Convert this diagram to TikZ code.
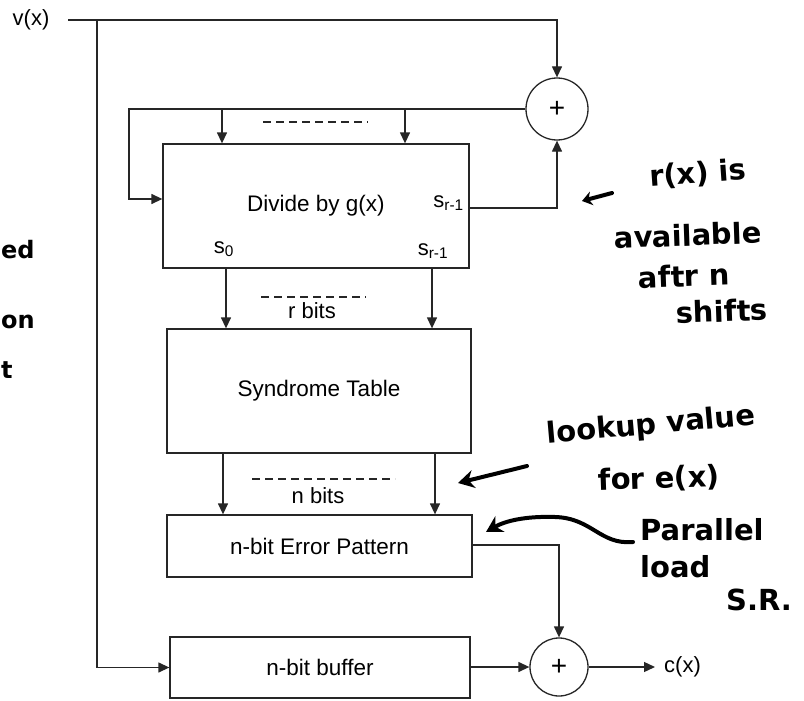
\documentclass[tikz,border=0pt]{standalone}
\usepackage{fontspec}
\setmainfont{Liberation Sans}
\newfontfamily\handfont{DejaVu Sans}
\usetikzlibrary{arrows.meta,calc}
\tikzset{
  wire/.style={line width=1.3pt, draw=black!85},
  arr/.style={wire, -{Triangle[length=11pt,width=10pt]}},
  blk/.style={wire, rectangle, inner sep=0pt, font=\fontsize{22.5}{25}\selectfont},
  adder/.style={wire, circle, minimum size=62pt, inner sep=0pt, font=\fontsize{28}{30}\selectfont},
  lbl/.style={inner sep=0pt, font=\fontsize{22}{24}\selectfont},
  sublbl/.style={inner sep=0pt, font=\fontsize{22}{24}\selectfont},
  dash line/.style={line width=1.3pt, draw=black!85, dash pattern=on 8pt off 5pt},
  hand/.style={inner sep=0pt, font=\handfont\bfseries\fontsize{29}{31}\selectfont, align=left},
  handarr/.style={line width=4pt, line cap=round, -{Stealth[length=16pt,width=18pt]}}
}
\begin{document}
\begin{tikzpicture}[x=1pt,y=-1pt]
\useasboundingbox (0,0) rectangle (804,701);
\fill[white] (0,0) rectangle (804,701);

% blocks
\node[blk, minimum width=306pt, minimum height=124pt] (div) at (316,206) {Divide by g(x)};
\node[blk, minimum width=304pt, minimum height=124pt] (syn) at (319,391) {Syndrome Table};
\node[blk, minimum width=305pt, minimum height=62pt] (err) at (319.5,546) {n-bit Error Pattern};
\node[blk, minimum width=300pt, minimum height=61pt] (buf) at (320,667.5) {n-bit buffer};
\node[adder] (add1) at (557,109) {+};
\node[adder, minimum size=58pt] (add2) at (559,667) {+};

% input / output
\node[lbl] (vx) at (31,20) {v(x)};
\coordinate (vstart) at (68,20);
\coordinate (vbr) at (97,20);
\coordinate (fbl) at (129,109);
\coordinate (tap1) at (222,109);
\coordinate (tap2) at (405,109);
\coordinate (cout) at (655,667);
\node[lbl, anchor=west] (cx) at (664,667) {c(x)};

% connectors
\draw[arr] (vstart) -| (add1.north);
\draw[arr] (vbr) |- (buf.west);
\draw[arr] (add1.west) -| (fbl) |- ([yshift=7pt]div.west);
\draw[arr] (tap1) -- (tap1 |- div.north);
\draw[arr] (tap2) -- (tap2 |- div.north);
\draw[arr] ([yshift=-2pt]div.east) -| (add1.south);
\draw[arr] (div.south -| 226,0) -- (syn.north -| 226,0);
\draw[arr] (div.south -| 432,0) -- (syn.north -| 432,0);
\draw[arr] (syn.south -| 223,0) -- (err.north -| 223,0);
\draw[arr] (syn.south -| 435,0) -- (err.north -| 435,0);
\draw[arr] ([yshift=1pt]err.east) -| (add2.north);
\draw[arr] (buf.east |- add2.west) -- (add2.west);
\draw[arr] (add2.east) -- (cout);

% dashed bus marks
\draw[dash line] (263,122) -- (368,122);
\draw[dash line] (261,297) -- (366,297);
\draw[dash line] (252,479) -- (395,479);
\node[lbl] (rbits) at (312,311) {r bits};
\node[lbl] (nbits) at (318,496) {n bits};

% register labels
\node[sublbl, anchor=east] (sr1) at (464,203) {s\textsubscript{r-1}};
\node[sublbl] (s0) at (224,249) {s\textsubscript{0}};
\node[sublbl] (sr2) at (433,251) {s\textsubscript{r-1}};

% handwritten notes
\node[hand, rotate=4] (n1a) at (698,174) {r(x) is};
\node[hand, rotate=2] (n1b) at (688,235) {available};
\node[hand, rotate=2] (n1c) at (684,276) {aftr n};
\node[hand, rotate=2] (n1d) at (722,311) {shifts};
\coordinate (h1s) at (612,193);
\coordinate (h1e) at (582,201);
\draw[handarr, -{Stealth[length=10pt,width=14pt]}] (h1s) -- (h1e);

\node[hand, rotate=5] (n2a) at (651,426) {lookup value};
\node[hand, rotate=2] (n2b) at (659,479) {for e(x)};
\coordinate (h2s) at (527,466);
\coordinate (h2e) at (458,483);
\draw[handarr] (h2s) -- (h2e);

\node[hand, anchor=west] (n3a) at (640,530) {Parallel};
\node[hand, anchor=west] (n3b) at (640,567) {load};
\node[hand, anchor=west] (n3c) at (726,600) {S.R.};
\coordinate (h3s) at (633,542);
\coordinate (h3m) at (555,517);
\coordinate (h3e) at (486,532);
\draw[handarr] (h3s) .. controls (600,545) and (592,518) .. (h3m) .. controls (525,516) and (505,521) .. (h3e);

% handwriting at the left edge
\node[hand, anchor=west, font=\handfont\bfseries\fontsize{24}{26}\selectfont] (l1) at (1,250) {ed};
\node[hand, anchor=west, font=\handfont\bfseries\fontsize{24}{26}\selectfont] (l2) at (1,322) {on};
\node[hand, anchor=west, font=\handfont\bfseries\fontsize{24}{26}\selectfont] (l3) at (1,370) {t};
\end{tikzpicture}
\end{document}
